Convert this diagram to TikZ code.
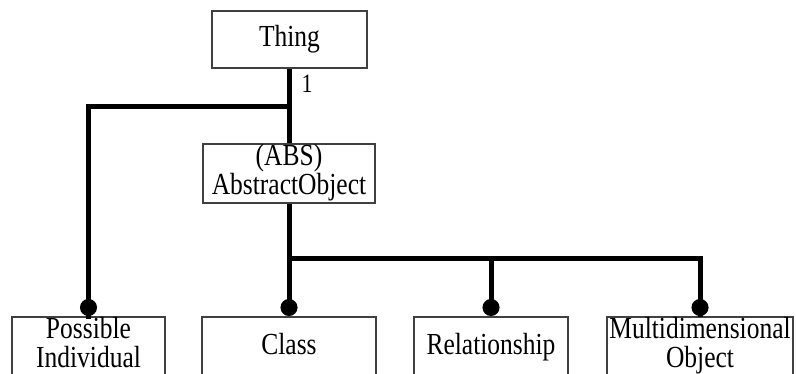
\documentclass[tikz,border=0pt]{standalone}
\usepackage{graphicx}
\usepackage{fontspec}
\setmainfont{Liberation Serif}
\usetikzlibrary{arrows.meta}
\newcommand{\tx}[1]{\scalebox{1}[1.2]{\begin{tabular}{@{}c@{}}#1\end{tabular}}}
\newcommand{\txup}[1]{\raisebox{1.5pt}[\height][\depth]{\tx{#1}}}
\tikzset{
  box/.style={draw=black!75, line width=2pt, fill=white, rectangle, inner sep=0pt,
    font=\fontsize{25.5}{21}\selectfont},
  conn/.style={line width=5pt, black},
  dotend/.style={conn, -{Circle[length=17pt,width=17pt]}},
}
\begin{document}
\begin{tikzpicture}[x=1pt,y=-1pt]
\clip (0,0) rectangle (796,374);
\fill[white] (0,0) rectangle (796,374);
\coordinate (j1) at (289,107);
\coordinate (j2) at (289,259);
\node[box, minimum width=155pt, minimum height=57pt] (thing) at (289.5,39.5) {\tx{Thing}};
\node[box, minimum width=172pt, minimum height=59pt] (abs) at (289,173.5) {\tx{(ABS)\\AbstractObject}};
\node[box, minimum width=153pt, minimum height=62pt] (pi) at (88.5,348) {\txup{Possible\\Individual}};
\node[box, minimum width=174pt, minimum height=62pt] (cls) at (289,348) {\tx{Class}};
\node[box, minimum width=154pt, minimum height=62pt] (rel) at (491,348) {\tx{Relationship}};
\node[box, minimum width=186pt, minimum height=62pt] (mdo) at (700,348) {\txup{Multidimensional\\Object}};
\draw[conn] (thing.south -| j1) -- (abs.north -| j1);
\draw[conn, line cap=rect] (j1) -| ([yshift=-1pt]pi.north);
\draw[dotend] (j1) -| (pi.north);
\draw[dotend] (abs.south -| j2) -- (cls.north);
\draw[conn] (j2) -| ([yshift=-1pt]mdo.north);
\draw[dotend] (j2) -| (rel.north);
\draw[dotend] (j2) -| (mdo.north);
\node[font=\fontsize{22}{22}\selectfont, anchor=center] (one) at (307,84) {\scalebox{1}[1.2]{1}};
\end{tikzpicture}
\end{document}
